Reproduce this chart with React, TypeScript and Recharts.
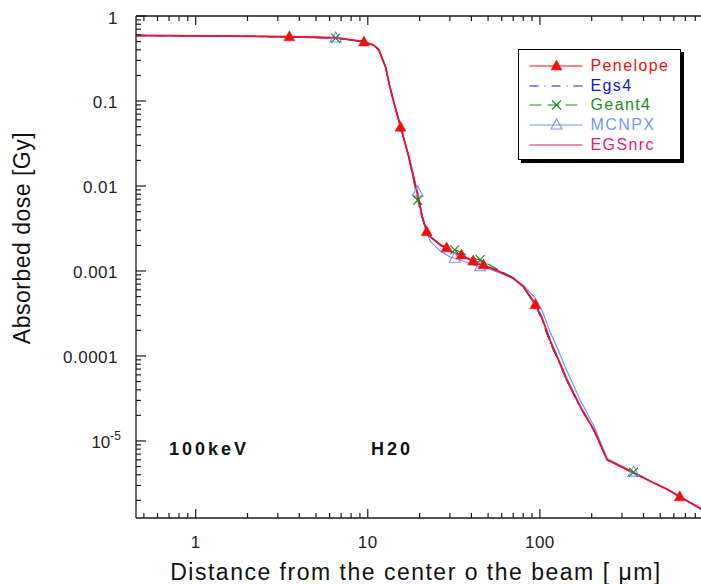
import React from 'react';
import { ComposedChart, Line, XAxis, YAxis, Legend, Customized } from 'recharts';

// distance from the beam centre [um]
const distance = [
  0.45, 1, 3.5, 6.5, 9.5, 10.8, 11.6, 12.1, 12.7, 13.3, 14.2, 15.5, 17.3, 19.5, 20.7, 22, 23.2,
  26.5, 28.7, 30.3, 32, 35, 41, 45, 47, 49.4, 59, 70, 80, 94, 103, 115, 126, 144, 172, 206, 246,
  350, 460, 550, 650, 860, 1000,
];

// absorbed dose [Gy]
const penelope = [
  0.59, 0.585, 0.57, 0.555, 0.495, 0.455, 0.4, 0.32, 0.25, 0.16, 0.095, 0.049, 0.022, 0.0078,
  0.0044, 0.0029, 0.0025, 0.002, 0.00187, 0.0017, 0.00162, 0.00154, 0.00131, 0.0012, 0.00118,
  0.00112, 0.00097, 0.00082, 0.00066, 0.0004, 0.00028, 0.00015, 0.000098, 0.000052, 0.0000253,
  0.0000135, 0.000006, 0.0000042, 0.0000032, 0.0000027, 0.0000022, 0.0000016, 0.00000134,
];
const egs4 = [
  0.59, 0.585, 0.57, 0.555, 0.5, 0.455, 0.4, 0.32, 0.25, 0.16, 0.095, 0.05, 0.022, 0.0077,
  0.0043, 0.0029, 0.0025, 0.00205, 0.00186, 0.0017, 0.00163, 0.00153, 0.00132, 0.00121, 0.00118,
  0.00113, 0.00099, 0.00083, 0.00065, 0.0004, 0.00027, 0.00014, 0.000096, 0.00005, 0.0000248,
  0.0000133, 0.000006, 0.0000042, 0.0000032, 0.0000027, 0.0000022, 0.0000016, 0.00000134,
];
const geant4 = [
  0.59, 0.585, 0.57, 0.55, 0.5, 0.455, 0.4, 0.32, 0.25, 0.16, 0.095, 0.05, 0.022, 0.0068,
  0.0042, 0.0029, 0.0025, 0.00205, 0.0019, 0.0018, 0.00177, 0.00165, 0.0014, 0.00136, 0.0013,
  0.00122, 0.001, 0.00083, 0.00065, 0.0004, 0.00027, 0.00014, 0.000096, 0.00005, 0.0000248,
  0.0000133, 0.000006, 0.0000043, 0.0000032, 0.0000027, 0.0000022, 0.0000016, 0.00000134,
];
const mcnpx = [
  0.59, 0.585, 0.57, 0.55, 0.5, 0.455, 0.4, 0.32, 0.25, 0.16, 0.095, 0.05, 0.023, 0.0085,
  0.0045, 0.0028, 0.0022, 0.0017, 0.00155, 0.00145, 0.00141, 0.00133, 0.00118, 0.00112, 0.0011,
  0.00107, 0.00094, 0.00082, 0.00068, 0.00048, 0.00034, 0.00019, 0.000125, 0.000066, 0.00003,
  0.000015, 0.0000062, 0.0000043, 0.0000032, 0.0000027, 0.0000022, 0.0000016, 0.00000134,
];
const egsnrc = [
  0.59, 0.585, 0.57, 0.555, 0.5, 0.455, 0.4, 0.32, 0.25, 0.16, 0.095, 0.05, 0.022, 0.0078,
  0.0044, 0.0029, 0.0025, 0.002, 0.00185, 0.0017, 0.00162, 0.00152, 0.0013, 0.0012, 0.00117,
  0.00112, 0.00097, 0.00082, 0.00066, 0.00041, 0.00028, 0.00015, 0.000098, 0.000052, 0.0000253,
  0.0000135, 0.000006, 0.0000042, 0.0000032, 0.0000027, 0.0000022, 0.0000016, 0.00000134,
];

// indices in distance[] where each code shows a symbol
const penelopeMarks = [2, 4, 11, 15, 18, 21, 22, 24, 29, 40];
const geant4Marks = [3, 13, 20, 23, 37];
const mcnpxMarks = [3, 13, 20, 23, 37];

const xLabels = [1, 10, 100];
const yLabels = [1, 0.1, 0.01, 0.001, 0.0001, 0.00001];
const xDecades = [0.1, 1, 10, 100, 1000];
const yDecades = [1e-6, 1e-5, 1e-4, 1e-3, 1e-2, 1e-1, 1];
const mantissas = [1, 2, 3, 4, 5, 6, 7, 8, 9];

const X_DOMAIN: [number, number] = [0.45, 1000];
const Y_DOMAIN: [number, number] = [1.24e-6, 1];

const buildTicks = (decades: number[], dom: [number, number]) =>
  decades
    .flatMap((d) => mantissas.map((m) => +(d * m).toPrecision(3)))
    .filter((v) => v >= dom[0] * 0.999 && v <= dom[1] * 1.001);

const xTicks = buildTicks(xDecades, X_DOMAIN);
const yTicks = buildTicks(yDecades, Y_DOMAIN);

const FONT = '"Liberation Sans", Arial, Helvetica, sans-serif';
const AXIS = '#1a1a1a';
const INK = '#222';

const series = [
  { key: 'mcnpx', name: 'MCNPX', color: '#7493ff', width: 1.2, dash: undefined, marker: 'open', marks: mcnpxMarks },
  { key: 'geant4', name: 'Geant4', color: '#1d8a1d', width: 1.3, dash: '12 6', marker: 'cross', marks: geant4Marks },
  { key: 'egs4', name: 'Egs4', color: '#1717c8', width: 1.3, dash: '9 6 1 6', marker: 'none', marks: [] as number[] },
  { key: 'egsnrc', name: 'EGSnrc', color: '#ee1479', width: 1.8, dash: undefined, marker: 'none', marks: [] as number[] },
  { key: 'penelope', name: 'Penelope', color: '#ee1111', width: 1.1, dash: undefined, marker: 'filled', marks: penelopeMarks },
];
const legendOrder = ['penelope', 'egs4', 'geant4', 'mcnpx', 'egsnrc'];

const rows = distance.map((x, i) => ({
  x,
  penelope: penelope[i],
  egs4: egs4[i],
  geant4: geant4[i],
  mcnpx: mcnpx[i],
  egsnrc: egsnrc[i],
}));

const isDecade = (v: number) => Math.abs(Math.log10(v) - Math.round(Math.log10(v))) < 1e-9;

const Marker = ({ kind, color, cx, cy }: { kind: string; color: string; cx: number; cy: number }) => {
  if (kind === 'filled' || kind === 'open') {
    const pts = `${cx},${cy - 6} ${cx + 5.5},${cy + 4} ${cx - 5.5},${cy + 4}`;
    return kind === 'filled' ? (
      <polygon points={pts} fill={color} stroke={color} strokeWidth={0.5} />
    ) : (
      <polygon points={pts} fill="none" stroke={color} strokeWidth={1.1} />
    );
  }
  if (kind === 'cross') {
    return (
      <g stroke={color} strokeWidth={1.2}>
        <line x1={cx - 4.5} y1={cy - 4.5} x2={cx + 4.5} y2={cy + 4.5} />
        <line x1={cx - 4.5} y1={cy + 4.5} x2={cx + 4.5} y2={cy - 4.5} />
      </g>
    );
  }
  return null;
};

const makeDot = (marks: number[], kind: string, color: string) => (props: any) => {
  const { cx, cy, index } = props;
  if (!marks.includes(index) || cx == null || cy == null) return <g key={`d${index}`} />;
  return (
    <g key={`d${index}`}>
      <Marker kind={kind} color={color} cx={cx} cy={cy} />
    </g>
  );
};

const BottomTick = ({ x, y, payload }: any) => {
  const v = payload.value;
  return (
    <g>
      <line x1={x} y1={y} x2={x} y2={y - (isDecade(v) ? 9 : 5)} stroke={AXIS} strokeWidth={1.2} />
      {xLabels.includes(v) && (
        <text x={x} y={y + 30} textAnchor="middle" fontSize={17} fontFamily={FONT} fill={INK} style={{ letterSpacing: 0.5 }}>
          {v}
        </text>
      )}
    </g>
  );
};

const TopTick = ({ x, y, payload }: any) => (
  <line x1={x} y1={y} x2={x} y2={y + (isDecade(payload.value) ? 9 : 5)} stroke={AXIS} strokeWidth={1.2} />
);

const LeftTick = ({ x, y, payload }: any) => {
  const v = payload.value;
  const label = yLabels.includes(v);
  return (
    <g>
      <line x1={x} y1={y} x2={x + (isDecade(v) ? 10 : 5)} y2={y} stroke={AXIS} strokeWidth={1.2} />
      {label && v >= 1e-4 && (
        <text x={x - 18} y={y + 7.5} textAnchor="end" fontSize={17} fontFamily={FONT} fill={INK} style={{ letterSpacing: 0.5 }}>
          {String(v)}
        </text>
      )}
      {label && v < 1e-4 && (
        <text x={x - 15} y={y + 7.5} textAnchor="end" fontSize={17} fontFamily={FONT} fill={INK}>
          10
          <tspan fontSize={12} dy={-8.5}>-5</tspan>
        </text>
      )}
    </g>
  );
};

const RightTick = ({ x, y, payload }: any) => (
  <line x1={x} y1={y} x2={x - (isDecade(payload.value) ? 10 : 5)} y2={y} stroke={AXIS} strokeWidth={1.2} />
);

const Annotations = () => (
  <g fontFamily={FONT}>
    <text x={169} y={455} fontSize={18} fontWeight="bold" fill="#111" style={{ letterSpacing: 3 }}>100keV</text>
    <text x={371} y={455} fontSize={18} fontWeight="bold" fill="#111" style={{ letterSpacing: 3 }}>H20</text>
    <text x={416} y={580} fontSize={23} textAnchor="middle" fill="#111" style={{ letterSpacing: 1.5 }}>
      Distance from the center o the beam [ μm]
    </text>
    <text x={30} y={238} fontSize={23} textAnchor="middle" fill="#111" transform="rotate(-90 30 238)" style={{ letterSpacing: 0.5 }}>
      Absorbed dose [Gy]
    </text>
  </g>
);

const LegendBox = () => (
  <div
    style={{
      width: 163,
      height: 111,
      boxSizing: 'border-box',
      border: '1.5px solid #000',
      boxShadow: '3px 3px 0 #000',
      background: '#fff',
      paddingTop: 6,
    }}
  >
    {legendOrder.map((k) => {
      const s = series.find((d) => d.key === k)!;
      return (
        <div key={k} style={{ display: 'flex', alignItems: 'center', height: 19.7 }}>
          <svg width={71.5} height={19.7} style={{ display: 'block', flex: 'none' }}>
            <line x1={10.5} y1={10} x2={63.5} y2={10} stroke={s.color} strokeWidth={1.2} strokeDasharray={s.dash} />
            <Marker kind={s.marker} color={s.color} cx={37.5} cy={10} />
          </svg>
          <span style={{ color: s.color, fontFamily: FONT, fontSize: 16, letterSpacing: 1.4, lineHeight: '19.7px' }}>
            {s.name}
          </span>
        </div>
      );
    })}
  </div>
);

export default function App() {
  return (
    <div style={{ position: 'fixed', left: 0, top: 0, width: 701, height: 584, overflow: 'hidden', background: '#fff' }}>
      <ComposedChart width={720} height={584} data={rows} margin={{ top: 0, right: 0, bottom: 0, left: 0 }}>
        <XAxis
          dataKey="x"
          type="number"
          scale="log"
          domain={X_DOMAIN}
          allowDataOverflow
          ticks={xTicks}
          interval={0}
          height={66}
          tickSize={0}
          tickMargin={0}
          tickLine={false}
          axisLine={{ stroke: AXIS, strokeWidth: 1.3 }}
          tick={<BottomTick />}
        />
        <XAxis
          xAxisId="top"
          orientation="top"
          dataKey="x"
          type="number"
          scale="log"
          domain={X_DOMAIN}
          allowDataOverflow
          ticks={xTicks}
          interval={0}
          height={16}
          tickSize={0}
          tickMargin={0}
          tickLine={false}
          axisLine={{ stroke: AXIS, strokeWidth: 1.3 }}
          tick={<TopTick />}
        />
        <YAxis
          type="number"
          scale="log"
          domain={Y_DOMAIN}
          allowDataOverflow
          ticks={yTicks}
          interval={0}
          width={136}
          tickSize={0}
          tickMargin={0}
          tickLine={false}
          axisLine={{ stroke: AXIS, strokeWidth: 1.3 }}
          tick={<LeftTick />}
        />
        <YAxis
          yAxisId="right"
          orientation="right"
          type="number"
          scale="log"
          domain={Y_DOMAIN}
          allowDataOverflow
          ticks={yTicks}
          interval={0}
          width={8}
          tickSize={0}
          tickMargin={0}
          tickLine={false}
          axisLine={{ stroke: AXIS, strokeWidth: 1.3 }}
          tick={<RightTick />}
        />
        {series.map((s) => (
          <Line
            key={s.key}
            dataKey={s.key}
            name={s.name}
            type="linear"
            stroke={s.color}
            strokeWidth={s.width}
            strokeDasharray={s.dash}
            strokeLinejoin="round"
            dot={makeDot(s.marks, s.marker, s.color)}
            activeDot={false}
            isAnimationActive={false}
          />
        ))}
        <Legend
          layout="horizontal"
          verticalAlign="middle"
          align="center"
          content={<LegendBox />}
          wrapperStyle={{ left: 518, top: 49, width: 163, height: 111 }}
        />
        <Customized component={Annotations} />
      </ComposedChart>
    </div>
  );
}
